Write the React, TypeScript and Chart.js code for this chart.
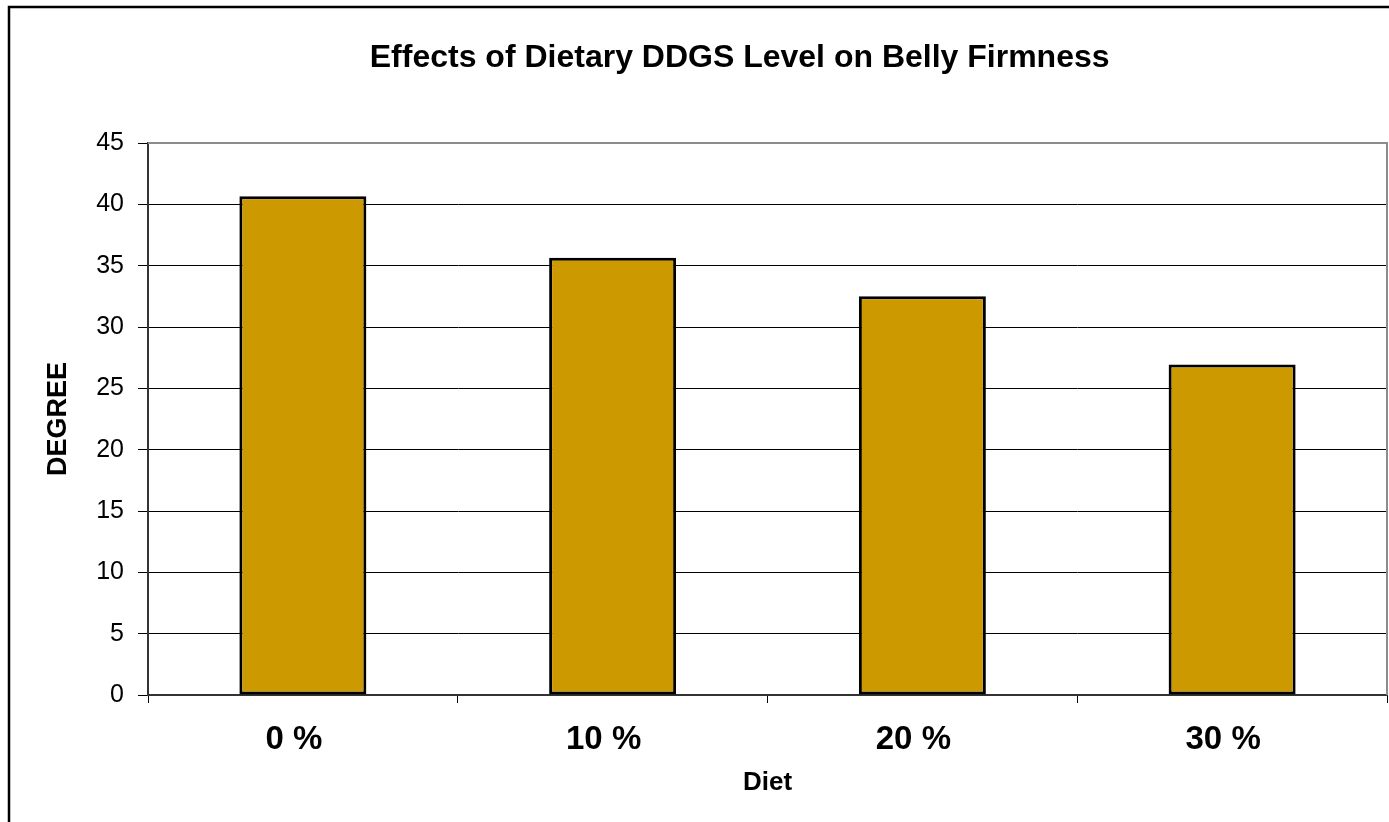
import React, { useEffect, useRef } from "react";
import { Chart, registerables } from "chart.js";

Chart.register(...registerables);

const categories = ["0 %", "10 %", "20 %", "30 %"];
const degreeValues = [40.65, 35.65, 32.5, 26.95];
const chartTitle = "Effects of Dietary DDGS Level on Belly Firmness";
const yTitle = "DEGREE";
const xTitle = "Diet";

const FONT = "'Liberation Sans', Arial, sans-serif";

const decorPlugin = {
  id: "decor",
  afterDraw(chart: any) {
    const { ctx, chartArea } = chart;
    ctx.save();
    ctx.strokeStyle = "#8c8c8c";
    ctx.lineWidth = 2;
    ctx.beginPath();
    ctx.moveTo(chartArea.left, chartArea.top);
    ctx.lineTo(chartArea.right, chartArea.top);
    ctx.lineTo(chartArea.right, chartArea.bottom);
    ctx.stroke();
    ctx.strokeStyle = "#000";
    ctx.lineWidth = 2.5;
    ctx.beginPath();
    ctx.moveTo(9, chart.height + 5);
    ctx.lineTo(9, 7);
    ctx.lineTo(chart.width + 5, 7);
    ctx.stroke();
    ctx.fillStyle = "#000";
    ctx.font = `bold 32px ${FONT}`;
    ctx.textAlign = "center";
    ctx.textBaseline = "middle";
    ctx.fillText(chartTitle, chart.width * 0.5325, 58);
    ctx.restore();
  },
};

export default function App() {
  const ref = useRef<HTMLCanvasElement>(null);
  useEffect(() => {
    const chart = new Chart(ref.current!, {
      type: "bar",
      data: {
        labels: categories,
        datasets: [
          {
            data: degreeValues,
            backgroundColor: "#CC9900",
            borderColor: "#000",
            borderWidth: 3,
            borderSkipped: false,
            categoryPercentage: 1,
            barPercentage: 0.41,
          },
        ],
      },
      options: {
        animation: false,
        responsive: false,
        maintainAspectRatio: false,
        layout: { padding: { top: 143, right: 2, left: 0, bottom: 0 } },
        plugins: { legend: { display: false }, title: { display: false }, tooltip: { enabled: false } },
        scales: {
          x: {
            grid: { drawOnChartArea: false, drawTicks: true, tickLength: 8, color: "#000", offset: true },
            border: { color: "#333", width: 2 },
            ticks: { color: "#000", padding: 17, labelOffset: -9, font: { family: FONT, size: 33, weight: "bold" } },
            title: {
              display: true,
              text: xTitle,
              color: "#000",
              font: { family: FONT, size: 26, weight: "bold" },
              padding: { top: 0, bottom: 24 },
            },
            afterFit(scale: any) {
              scale.height = 127;
            },
          },
          y: {
            min: 0,
            max: 45,
            ticks: { stepSize: 5, color: "#000", padding: 14, font: { family: FONT, size: 25 } },
            grid: { color: "#000", lineWidth: 1, tickLength: 10, drawTicks: true },
            border: { color: "#333", width: 2 },
            title: {
              display: true,
              text: yTitle,
              color: "#000",
              font: { family: FONT, size: 27, weight: "bold" },
              padding: { top: 42, bottom: 0 },
            },
            afterFit(scale: any) {
              scale.width = 148;
            },
          },
        },
      },
      plugins: [decorPlugin],
    });
    return () => chart.destroy();
  }, []);
  return (
    <div style={{ position: "fixed", left: 0, top: 0, width: 1389, height: 822, background: "#fff" }}>
      <canvas ref={ref} width={1389} height={822} style={{ display: "block" }} />
    </div>
  );
}
